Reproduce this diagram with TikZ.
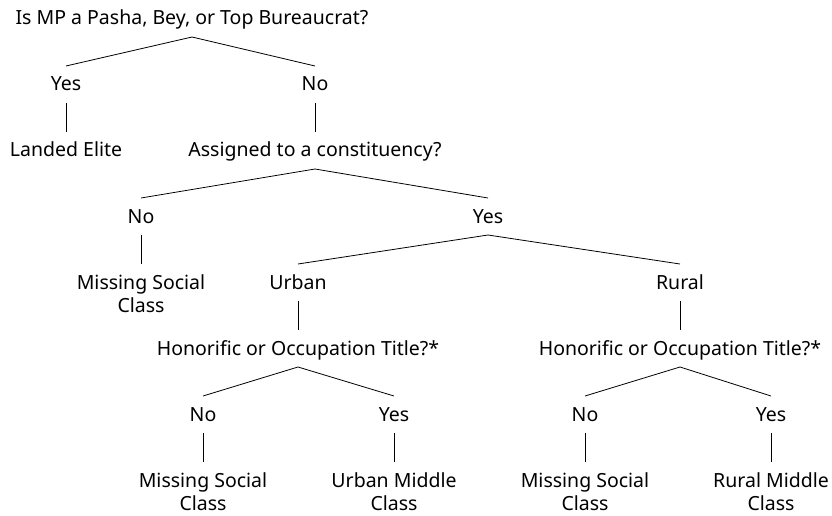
\documentclass[tikz,border=0pt]{standalone}
\usepackage{fontspec}
\setmainfont{Noto Sans}
\begin{document}
\begin{tikzpicture}[x=1pt,y=-1pt,
  lbl/.style={inner sep=0pt, anchor=base, font=\fontsize{19.5}{23}\selectfont, align=center},
  edge/.style={draw=black, line width=0.8pt}]
\useasboundingbox (0,0) rectangle (832,516);
\node[lbl] (q1) at (192,25) {Is MP a Pasha, Bey, or Top Bureaucrat?};
\node[lbl] (y1) at (66,91) {Yes};
\node[lbl] (n1) at (315,91) {No};
\node[lbl] (le) at (66,157) {Landed Elite};
\node[lbl] (q2) at (315,157) {Assigned to a constituency?};
\node[lbl] (n2) at (141,223) {No};
\node[lbl] (y2) at (488,223) {Yes};
\node[lbl] (ms1) at (141,312) {Missing Social\\Class};
\node[lbl] (ur) at (298,289) {Urban};
\node[lbl] (ru) at (680,289) {Rural};
\node[lbl] (q3) at (298,355) {Honorific or Occupation Title?*};
\node[lbl] (q4) at (680,355) {Honorific or Occupation Title?*};
\node[lbl] (n3) at (203,421) {No};
\node[lbl] (y3) at (394,421) {Yes};
\node[lbl] (n4) at (585,421) {No};
\node[lbl] (y4) at (771,421) {Yes};
\node[lbl] (ms2) at (203,510) {Missing Social\\Class};
\node[lbl] (um) at (394,510) {Urban Middle\\Class};
\node[lbl] (ms3) at (585,510) {Missing Social\\Class};
\node[lbl] (rm) at (771,510) {Rural Middle\\Class};
\foreach \a/\b in {q1/y1,q1/n1,y1/le,n1/q2,q2/n2,q2/y2,y2/ur,y2/ru,ur/q3,ru/q4,q3/n3,q3/y3,q4/n4,q4/y4}
  \path[edge] ([yshift=-12pt]\a.base) -- ([yshift=25pt]\b.base);
\foreach \a/\b in {n2/ms1,n3/ms2,y3/um,n4/ms3,y4/rm}
  \path[edge] ([yshift=-12pt]\a.base) -- ([yshift=48pt]\b.base);
\end{tikzpicture}
\end{document}
